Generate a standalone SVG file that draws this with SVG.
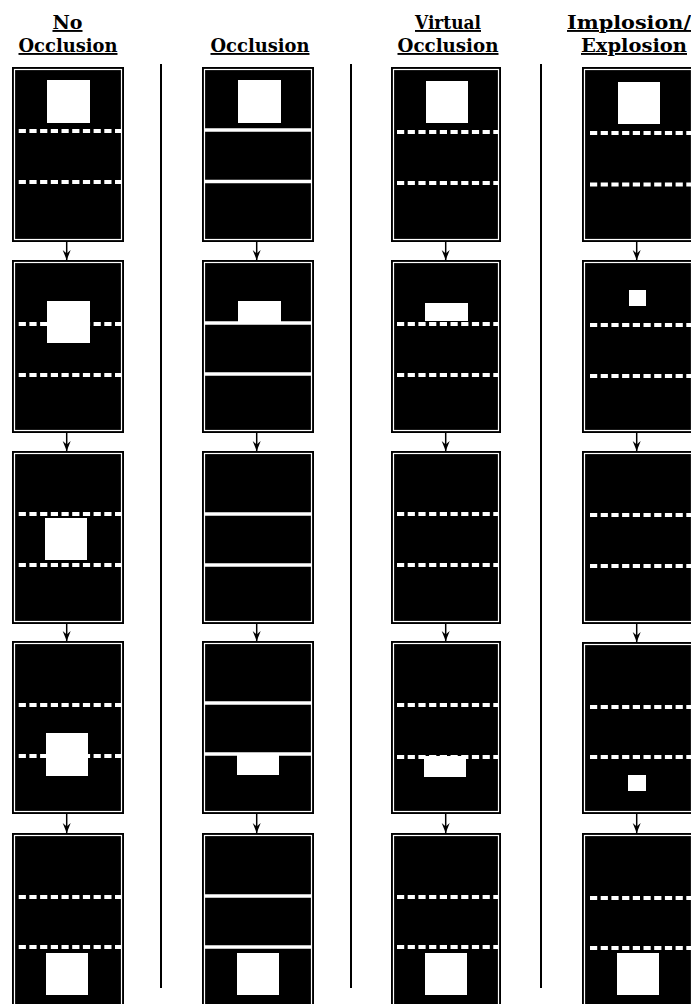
<svg xmlns="http://www.w3.org/2000/svg" width="691" height="1004" viewBox="0 0 691 1004">
<style>
.hdr{font-family:"DejaVu Serif","Liberation Serif",serif;font-weight:bold;font-size:19px;fill:#000;text-anchor:middle;text-decoration:underline}
.bg{fill:#000}
.rim{fill:none;stroke:#fff;stroke-width:1.2}
.dash{stroke:#fff;stroke-width:3.8;stroke-dasharray:7.2 3.5;fill:none}
.solid{stroke:#fff;stroke-width:3.6;fill:none}
.obj{fill:#fff}
.sep{stroke:#000;stroke-width:2;fill:none}
.arr{stroke:#000;stroke-width:1.5;fill:none}
</style>
<defs>
<marker id="ah" markerUnits="userSpaceOnUse" markerWidth="9" markerHeight="11" refX="4" refY="10" orient="0" overflow="visible">
<path d="M0,0 L4,10 L8,0 L4,3.5 Z" fill="#000"/>
</marker>
</defs>
<rect width="691" height="1004" fill="#fff"/>

<g id="headers">
<text class="hdr" x="67.5" y="29">No</text>
<text class="hdr" x="68" y="52" textLength="99" lengthAdjust="spacingAndGlyphs">Occlusion</text>
<text class="hdr" x="260" y="52" textLength="99" lengthAdjust="spacingAndGlyphs">Occlusion</text>
<text class="hdr" x="448" y="29" textLength="66" lengthAdjust="spacingAndGlyphs">Virtual</text>
<text class="hdr" x="448" y="52" textLength="101" lengthAdjust="spacingAndGlyphs">Occlusion</text>
<text class="hdr" x="629" y="29" textLength="124" lengthAdjust="spacingAndGlyphs">Implosion/</text>
<text class="hdr" x="634" y="52" textLength="106" lengthAdjust="spacingAndGlyphs">Explosion</text>
</g>

<g id="separators">
<line class="sep" x1="161" y1="64" x2="161" y2="988"/>
<line class="sep" x1="351" y1="64" x2="351" y2="988"/>
<line class="sep" x1="541" y1="64" x2="541" y2="988"/>
</g>

<!-- Column 1: No Occlusion -->
<g id="c1r1"><rect class="bg" x="12" y="67" width="112" height="175"/><rect class="rim" x="14.5" y="69.5" width="107" height="170"/>
<line class="dash" x1="18.7" y1="131" x2="121" y2="131"/><line class="dash" x1="18.7" y1="182" x2="121" y2="182"/>
<rect class="obj" x="47" y="80" width="43" height="43"/></g>
<g id="c1r2"><rect class="bg" x="12" y="260" width="112" height="173"/><rect class="rim" x="14.5" y="262.5" width="107" height="168"/>
<line class="dash" x1="18.7" y1="324" x2="121" y2="324"/><line class="dash" x1="18.7" y1="375" x2="121" y2="375"/>
<rect class="obj" x="47" y="301" width="43" height="42"/></g>
<g id="c1r3"><rect class="bg" x="12" y="451" width="112" height="173"/><rect class="rim" x="14.5" y="453.5" width="107" height="168"/>
<line class="dash" x1="18.7" y1="514" x2="121" y2="514"/><line class="dash" x1="18.7" y1="565" x2="121" y2="565"/>
<rect class="obj" x="45" y="518" width="42" height="42"/></g>
<g id="c1r4"><rect class="bg" x="12" y="641" width="112" height="173"/><rect class="rim" x="14.5" y="643.5" width="107" height="168"/>
<line class="dash" x1="18.7" y1="705" x2="121" y2="705"/><line class="dash" x1="18.7" y1="756" x2="121" y2="756"/>
<rect class="obj" x="46" y="733" width="42" height="43"/></g>
<g id="c1r5"><rect class="bg" x="12" y="833" width="112" height="180"/><rect class="rim" x="14.5" y="835.5" width="107" height="180"/>
<line class="dash" x1="18.7" y1="897" x2="121" y2="897"/><line class="dash" x1="18.7" y1="947" x2="121" y2="947"/>
<rect class="obj" x="46" y="953" width="42" height="42"/></g>

<!-- Column 2: Occlusion -->
<g id="c2r1"><rect class="bg" x="202" y="67" width="112" height="175"/><rect class="rim" x="204.5" y="69.5" width="107" height="170"/>
<line class="solid" x1="204" y1="130" x2="312" y2="130"/><line class="solid" x1="204" y1="181.5" x2="312" y2="181.5"/>
<rect class="obj" x="238" y="80" width="43" height="43"/></g>
<g id="c2r2"><rect class="bg" x="202" y="260" width="112" height="173"/><rect class="rim" x="204.5" y="262.5" width="107" height="168"/>
<line class="solid" x1="204" y1="323" x2="312" y2="323"/><line class="solid" x1="204" y1="374" x2="312" y2="374"/>
<rect class="obj" x="238" y="301" width="43" height="22"/></g>
<g id="c2r3"><rect class="bg" x="202" y="451" width="112" height="173"/><rect class="rim" x="204.5" y="453.5" width="107" height="168"/>
<line class="solid" x1="204" y1="514" x2="312" y2="514"/><line class="solid" x1="204" y1="565" x2="312" y2="565"/></g>
<g id="c2r4"><rect class="bg" x="202" y="641" width="112" height="173"/><rect class="rim" x="204.5" y="643.5" width="107" height="168"/>
<line class="solid" x1="204" y1="703" x2="312" y2="703"/><line class="solid" x1="204" y1="754" x2="312" y2="754"/>
<rect class="obj" x="237" y="754" width="42" height="21"/></g>
<g id="c2r5"><rect class="bg" x="202" y="833" width="112" height="180"/><rect class="rim" x="204.5" y="835.5" width="107" height="180"/>
<line class="solid" x1="204" y1="896" x2="312" y2="896"/><line class="solid" x1="204" y1="947" x2="312" y2="947"/>
<rect class="obj" x="237" y="953" width="42" height="42"/></g>

<!-- Column 3: Virtual Occlusion -->
<g id="c3r1"><rect class="bg" x="391" y="67" width="110" height="175"/><rect class="rim" x="393.5" y="69.5" width="105" height="170"/>
<line class="dash" x1="397" y1="132" x2="498" y2="132"/><line class="dash" x1="397" y1="183" x2="498" y2="183"/>
<rect class="obj" x="426" y="81" width="42" height="42"/></g>
<g id="c3r2"><rect class="bg" x="391" y="260" width="110" height="173"/><rect class="rim" x="393.5" y="262.5" width="105" height="168"/>
<line class="dash" x1="397" y1="324" x2="498" y2="324"/><line class="dash" x1="397" y1="375" x2="498" y2="375"/>
<rect class="obj" x="425" y="303" width="43" height="18"/></g>
<g id="c3r3"><rect class="bg" x="391" y="451" width="110" height="173"/><rect class="rim" x="393.5" y="453.5" width="105" height="168"/>
<line class="dash" x1="397" y1="514" x2="498" y2="514"/><line class="dash" x1="397" y1="565" x2="498" y2="565"/></g>
<g id="c3r4"><rect class="bg" x="391" y="641" width="110" height="173"/><rect class="rim" x="393.5" y="643.5" width="105" height="168"/>
<line class="dash" x1="397" y1="705" x2="498" y2="705"/><line class="dash" x1="397" y1="757" x2="498" y2="757"/>
<rect class="obj" x="424" y="756" width="42" height="21"/></g>
<g id="c3r5"><rect class="bg" x="391" y="833" width="110" height="180"/><rect class="rim" x="393.5" y="835.5" width="105" height="180"/>
<line class="dash" x1="397" y1="897" x2="498" y2="897"/><line class="dash" x1="397" y1="947" x2="498" y2="947"/>
<rect class="obj" x="425" y="953" width="42" height="42"/></g>

<!-- Column 4: Implosion/Explosion -->
<g id="c4r1"><rect class="bg" x="582" y="67" width="112" height="175"/><rect class="rim" x="584.5" y="69.5" width="107" height="170"/>
<line class="dash" x1="590" y1="133" x2="691" y2="133"/><line class="dash" x1="590" y1="184.5" x2="691" y2="184.5"/>
<rect class="obj" x="618" y="82" width="42" height="42"/></g>
<g id="c4r2"><rect class="bg" x="582" y="260" width="112" height="173"/><rect class="rim" x="584.5" y="262.5" width="107" height="168"/>
<line class="dash" x1="590" y1="325" x2="691" y2="325"/><line class="dash" x1="590" y1="376" x2="691" y2="376"/>
<rect class="obj" x="629" y="290" width="17" height="16"/></g>
<g id="c4r3"><rect class="bg" x="582" y="451" width="112" height="173"/><rect class="rim" x="584.5" y="453.5" width="107" height="168"/>
<line class="dash" x1="590" y1="515" x2="691" y2="515"/><line class="dash" x1="590" y1="566" x2="691" y2="566"/></g>
<g id="c4r4"><rect class="bg" x="582" y="642" width="112" height="172"/><rect class="rim" x="584.5" y="644.5" width="107" height="167"/>
<line class="dash" x1="590" y1="707" x2="691" y2="707"/><line class="dash" x1="590" y1="757" x2="691" y2="757"/>
<rect class="obj" x="628" y="775" width="18" height="16"/></g>
<g id="c4r5"><rect class="bg" x="582" y="833" width="112" height="180"/><rect class="rim" x="584.5" y="835.5" width="107" height="180"/>
<line class="dash" x1="590" y1="898" x2="691" y2="898"/><line class="dash" x1="590" y1="948" x2="691" y2="948"/>
<rect class="obj" x="617" y="953" width="42" height="42"/></g>

<g id="connectors">
<line class="arr" x1="66.7" y1="242" x2="66.7" y2="260" marker-end="url(#ah)"/>
<line class="arr" x1="66.7" y1="433" x2="66.7" y2="451" marker-end="url(#ah)"/>
<line class="arr" x1="66.7" y1="624" x2="66.7" y2="641" marker-end="url(#ah)"/>
<line class="arr" x1="66.7" y1="814" x2="66.7" y2="833" marker-end="url(#ah)"/>
<line class="arr" x1="256.7" y1="242" x2="256.7" y2="260" marker-end="url(#ah)"/>
<line class="arr" x1="256.7" y1="433" x2="256.7" y2="451" marker-end="url(#ah)"/>
<line class="arr" x1="256.7" y1="624" x2="256.7" y2="641" marker-end="url(#ah)"/>
<line class="arr" x1="256.7" y1="814" x2="256.7" y2="833" marker-end="url(#ah)"/>
<line class="arr" x1="445.7" y1="242" x2="445.7" y2="260" marker-end="url(#ah)"/>
<line class="arr" x1="445.7" y1="433" x2="445.7" y2="451" marker-end="url(#ah)"/>
<line class="arr" x1="445.7" y1="624" x2="445.7" y2="641" marker-end="url(#ah)"/>
<line class="arr" x1="445.7" y1="814" x2="445.7" y2="833" marker-end="url(#ah)"/>
<line class="arr" x1="636.7" y1="242" x2="636.7" y2="260" marker-end="url(#ah)"/>
<line class="arr" x1="636.7" y1="433" x2="636.7" y2="451" marker-end="url(#ah)"/>
<line class="arr" x1="636.7" y1="624" x2="636.7" y2="642" marker-end="url(#ah)"/>
<line class="arr" x1="636.7" y1="814" x2="636.7" y2="833" marker-end="url(#ah)"/>
</g>
</svg>
